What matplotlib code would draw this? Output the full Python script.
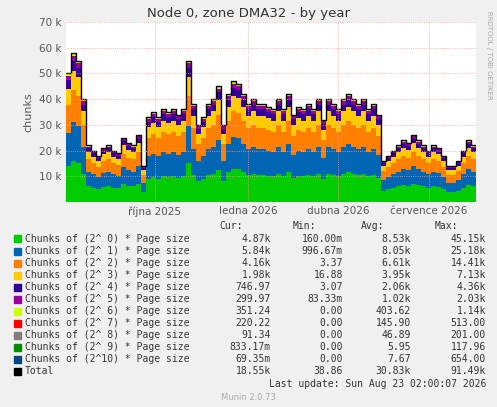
import matplotlib
matplotlib.use("Agg")
import matplotlib.pyplot as plt
import numpy as np

days = list(range(0, 415, 5))
total = [50,58,55,40,22,20,18,21,22,20,19,25,23,22,26,14,33,35,33,36,35,36,34,36,55,38,30,33,38,40,
         45,30,42,47,46,42,38,40,38,38,37,36,40,36,42,34,37,36,38,36,40,32,40,38,36,40,42,40,38,40,
         36,38,34,16,18,20,22,24,23,26,24,22,20,22,21,18,14,14,16,20,24,22,20]
total = total[:len(days)]
shares = [8.53,8.05,6.61,3.95,2.06,1.02,0.40,0.146,0.047,0.006,0.008]
names = ["Chunks of (2^ 0) * Page size","Chunks of (2^ 1) * Page size","Chunks of (2^ 2) * Page size",
         "Chunks of (2^ 3) * Page size","Chunks of (2^ 4) * Page size","Chunks of (2^ 5) * Page size",
         "Chunks of (2^ 6) * Page size","Chunks of (2^ 7) * Page size","Chunks of (2^ 8) * Page size",
         "Chunks of (2^ 9) * Page size","Chunks of (2^10) * Page size","Total"]
colors = ["#00CC00","#0066B3","#FF8000","#FFCC00","#330099","#990099","#CCFF00","#FF0000","#808080","#008F00","#00487D","#000000"]
cur = ["4.87k","5.84k","4.16k","1.98k","746.97","299.97","351.24","220.22","91.34","833.17m","69.35m","18.55k"]
mn = ["160.00m","996.67m","3.37","16.88","3.07","83.33m","0.00","0.00","0.00","0.00","0.00","38.86"]
avg = ["8.53k","8.05k","6.61k","3.95k","2.06k","1.02k","403.62","145.90","46.89","5.95","7.67","30.83k"]
mx = ["45.15k","25.18k","14.41k","7.13k","4.36k","2.03k","1.14k","513.00","201.00","117.96","654.00","91.49k"]

W, H = 497, 407
fig = plt.figure(figsize=(W/100, H/100), dpi=100, facecolor="#F0F0F0")
ax = fig.add_axes([66/W, 1-202/H, 410/W, 180/H], facecolor="white")
s = sum(shares)
t = np.array(total) * 1000
layers = [t * sh / s for sh in shares]
ax.stackplot(days, layers, colors=colors[:11], step="post", linewidth=0)
ax.step(days, t, where="post", color="black", linewidth=1)
ax.set_xlim(0, 410)
ax.set_ylim(0, 70000)
ax.set_yticks(range(10000, 70001, 10000))
ax.set_yticklabels([f"{v} k" for v in range(10, 71, 10)], fontsize=7.5, color="#555555")
ax.set_xticks([89, 182, 272, 363])
ax.set_xticklabels(["října 2025", "ledna 2026", "dubna 2026", "července 2026"], fontsize=7.5, color="#555555")
ax.grid(True, color="#FF9999", linestyle=":", linewidth=0.6)
ax.set_axisbelow(False)
ax.tick_params(length=0, pad=3)
for sp in ax.spines.values():
    sp.set_visible(False)
ax.set_ylabel("chunks", fontsize=8, color="#555555")
fig.text(0.5, 1-13/H, "Node 0, zone DMA32 - by year", ha="center", va="center", fontsize=9.5, color="#333333")
fig.text(489/W, 1-55/H, "RRDTOOL / TOBI OETIKER", rotation=270, ha="center", va="center", fontsize=5, color="#AAAAAA")

mono = dict(family="DejaVu Sans Mono", fontsize=7, color="#333333", va="center")
y0 = 226
fig.text(243/W, 1-y0/H, "Cur:", ha="right", **mono)
fig.text(316/W, 1-y0/H, "Min:", ha="right", **mono)
fig.text(384/W, 1-y0/H, "Avg:", ha="right", **mono)
fig.text(458/W, 1-y0/H, "Max:", ha="right", **mono)
for i in range(12):
    y = 239 + i * 12.0
    fig.patches.append(plt.Rectangle((14/W, 1-(y+3.5)/H), 7/W, 7/H, color=colors[i], transform=fig.transFigure, figure=fig))
    fig.text(25/W, 1-y/H, names[i], ha="left", **mono)
    fig.text(271/W, 1-y/H, cur[i], ha="right", **mono)
    fig.text(343/W, 1-y/H, mn[i], ha="right", **mono)
    fig.text(411/W, 1-y/H, avg[i], ha="right", **mono)
    fig.text(486/W, 1-y/H, mx[i], ha="right", **mono)
fig.text(486/W, 1-384/H, "Last update: Sun Aug 23 02:00:07 2026", ha="right", **mono)
fig.text(248/W, 1-397/H, "Munin 2.0.73", ha="center", va="center", fontsize=6, color="#AAAAAA")
fig.savefig("out.png", dpi=100, facecolor=fig.get_facecolor())
